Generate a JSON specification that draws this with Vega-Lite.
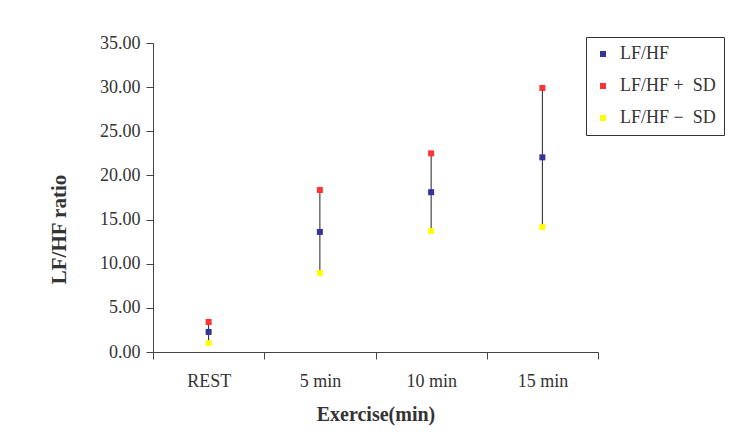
{
  "$schema": "https://vega.github.io/schema/vega-lite/v6.json",
  "width": 445,
  "height": 309,
  "autosize": {"type": "none"},
  "padding": {"left": 153, "top": 43, "right": 146, "bottom": 95},
  "background": "white",
  "config": {
    "font": "Liberation Serif",
    "view": {"stroke": null},
    "axis": {"grid": false, "domainColor": "#444", "tickColor": "#444", "labelColor": "#333", "titleColor": "#333", "labelFont": "Liberation Serif", "titleFont": "Liberation Serif", "labelFontSize": 18, "titleFontSize": 20, "titleFontWeight": "bold"}
  },
  "data": {"values": [
    {"cat": "REST", "mean": 2.27, "plus": 3.4, "minus": 1.0},
    {"cat": "5 min", "mean": 13.6, "plus": 18.35, "minus": 8.95},
    {"cat": "10 min", "mean": 18.1, "plus": 22.5, "minus": 13.7},
    {"cat": "15 min", "mean": 22.05, "plus": 29.9, "minus": 14.15}
  ]},
  "encoding": {
    "x": {"field": "cat", "type": "nominal", "sort": null, "title": "Exercise(min)",
      "scale": {"paddingInner": 0, "paddingOuter": 0},
      "axis": {"labelAngle": 0, "tickBand": "extent", "tickSize": 7, "labelPadding": 13, "titlePadding": 14}}
  },
  "layer": [
    {
      "mark": {"type": "rule", "color": "#222", "strokeWidth": 1},
      "encoding": {
        "y": {"field": "minus", "type": "quantitative"},
        "y2": {"field": "plus"}
      }
    },
    {
      "transform": [{"fold": ["mean", "plus", "minus"], "as": ["series", "value"]}],
      "mark": {"type": "point", "shape": "square", "filled": true, "opacity": 1, "size": 36},
      "encoding": {
        "y": {"field": "value", "type": "quantitative", "title": "LF/HF ratio",
          "scale": {"domain": [0, 35], "nice": false},
          "axis": {"values": [0, 5, 10, 15, 20, 25, 30, 35], "format": ".2f", "tickSize": 7, "labelPadding": 6, "titlePadding": 30, "titleFontSize": 21, "titleY": 186}},
        "color": {"field": "series", "type": "nominal",
          "scale": {"domain": ["mean", "plus", "minus"], "range": ["#333399", "#FF3333", "#FFFF00"]},
          "legend": {"title": null, "orient": "none", "legendX": 433, "legendY": -6,
            "labelExpr": "datum.value == 'mean' ? 'LF/HF' : datum.value == 'plus' ? 'LF/HF +\u00a0 SD' : 'LF/HF −\u00a0 SD'",
            "symbolType": "square", "symbolSize": 36, "labelFont": "Liberation Serif", "labelFontSize": 18, "labelColor": "#333",
            "strokeColor": "#333", "padding": 8, "rowPadding": 14, "labelOffset": 8, "labelLimit": 200}}
      }
    }
  ]
}
